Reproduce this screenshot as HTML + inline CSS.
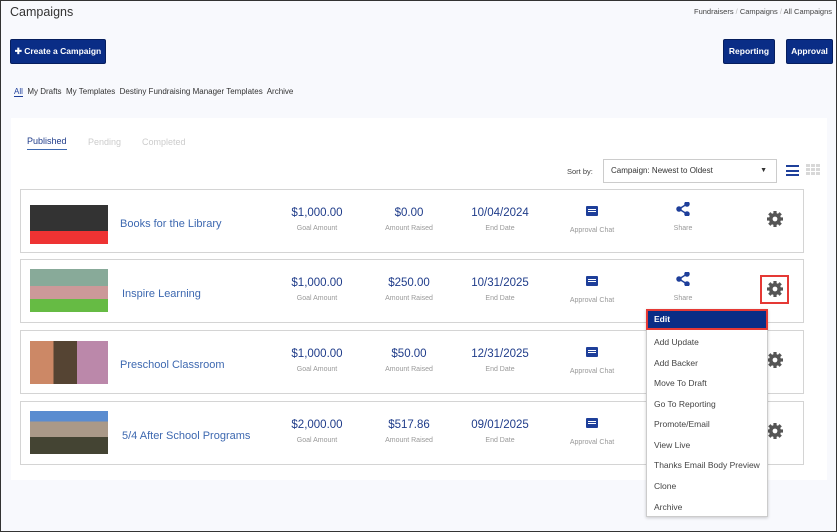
<!DOCTYPE html>
<html><head><meta charset="utf-8"><style>
*{margin:0;padding:0;box-sizing:border-box}
body{width:837px;height:532px;overflow:hidden;font-family:"Liberation Sans",sans-serif;background:#fff}
#f{position:absolute;left:0;top:0;width:837px;height:532px;border:1px solid #333;background:#f8f9fd}
.a{position:absolute;white-space:nowrap}
.btn{position:absolute;background:#0a2d86;color:#fff;font-size:8.5px;font-weight:bold;border-radius:2px;text-align:center;line-height:23px;height:25px;border:1px solid #061e5e}
.row{position:absolute;left:19px;width:784px;height:64px;background:#fff;border:1px solid #d4d4d4}
.th{position:absolute;left:9px;top:11px;width:78px;height:43px}
.nm{position:absolute;top:0;line-height:68px;font-size:11px;color:#3d68b0}
.v{position:absolute;top:17px;width:100px;margin-left:-50px;text-align:center;font-size:11.5px;color:#1f3c8a}
.l{position:absolute;top:35px;width:100px;margin-left:-50px;text-align:center;font-size:7px;color:#999}
.ch{position:absolute;top:16px;width:12px;height:10px;margin-left:-6px;background:#1e3f9a;border-radius:1px}
.ch:after{content:"";position:absolute;left:2px;top:3px;width:8px;height:1px;background:#fff;box-shadow:0 2px 0 #fff}
.sh{position:absolute;top:12px;margin-left:-7px}
.g{position:absolute;top:20px;left:745px}
.mi{position:absolute;left:7px;font-size:8.5px;color:#444}
</style></head><body><div id="f">
<svg width="0" height="0" style="position:absolute"><defs>
<g id="gear"><circle cx="9" cy="9" r="6" fill="#555"/><g stroke="#555" stroke-width="3.2"><line x1="9" y1="1" x2="9" y2="17"/><line x1="1" y1="9" x2="17" y2="9"/><line x1="3.3" y1="3.3" x2="14.7" y2="14.7"/><line x1="14.7" y1="3.3" x2="3.3" y2="14.7"/></g><circle cx="9" cy="9" r="2.4" fill="#fff"/></g>
<g id="share" stroke="#1e3f9a" stroke-width="1.5" fill="#1e3f9a"><line x1="11" y1="2" x2="3" y2="7"/><line x1="3" y1="7" x2="11" y2="12"/><circle cx="11" cy="2" r="2"/><circle cx="3" cy="7" r="2"/><circle cx="11" cy="12" r="2"/></g>
</defs></svg>
<div class="a" style="left:9px;top:4px;font-size:12.5px;color:#333">Campaigns</div>
<div class="a" style="right:4px;top:6px;font-size:7.5px;color:#444">Fundraisers <span style="color:#bbb">/</span> Campaigns <span style="color:#bbb">/</span> All Campaigns</div>
<div class="btn" style="left:9px;top:38px;width:96px">✚ Create a Campaign</div>
<div class="btn" style="left:722px;top:38px;width:52px">Reporting</div>
<div class="btn" style="left:785px;top:38px;width:47px">Approval</div>
<div class="a" style="left:13px;top:86px;font-size:8px;color:#333"><span style="color:#1e3f9a;border-bottom:1px solid #1e3f9a">All</span>&nbsp; My Drafts&nbsp; My Templates&nbsp; Destiny Fundraising Manager Templates&nbsp; Archive</div>
<div style="position:absolute;left:10px;top:117px;width:816px;height:362px;background:#fff"></div>
<div class="a" style="left:26px;top:135px;font-size:9px;color:#1f3c8a;border-bottom:1.5px solid #3d68b0;padding-bottom:3px">Published</div>
<div class="a" style="left:87px;top:136px;font-size:9px;color:#ccc">Pending</div>
<div class="a" style="left:141px;top:136px;font-size:9px;color:#ccc">Completed</div>
<div class="a" style="left:566px;top:166px;font-size:7.5px;color:#444">Sort by:</div>
<div style="position:absolute;left:602px;top:158px;width:174px;height:24px;border:1px solid #ccc;background:#fff;font-size:8px;color:#333;line-height:22px;padding-left:7px">Campaign: Newest to Oldest<span style="position:absolute;right:9px;top:0;font-size:7px">▼</span></div>
<div style="position:absolute;left:785px;top:164px;width:13px;height:11px;border-top:2px solid #1e3f9a;border-bottom:2px solid #1e3f9a"><div style="margin-top:2.5px;height:2px;background:#1e3f9a"></div></div>
<div style="position:absolute;left:805px;top:163px;width:14px;height:11px;background:repeating-linear-gradient(90deg,#d8d8d8 0 4px,transparent 4px 5px),#fff;-webkit-mask:repeating-linear-gradient(#000 0 3px,transparent 3px 4px)"></div>

<div class="row" style="top:188px"><div class="th" style="background:linear-gradient(#fff 0 4px,#333 4px 30px,#e33 30px);"></div><div class="nm" style="left:99px">Books for the Library</div>
<div class="v" style="left:296px">$1,000.00</div><div class="l" style="left:296px">Goal Amount</div>
<div class="v" style="left:388px">$0.00</div><div class="l" style="left:388px">Amount Raised</div>
<div class="v" style="left:479px">10/04/2024</div><div class="l" style="left:479px">End Date</div>
<div class="ch" style="left:571px"></div><div class="l" style="left:571px;top:37px">Approval Chat</div>
<svg class="sh" style="left:662px" width="14" height="14"><use href="#share"/></svg><div class="l" style="left:662px">Share</div>
<svg class="g" width="18" height="18"><use href="#gear"/></svg></div>

<div class="row" style="top:258px"><div class="th" style="top:9px;background:linear-gradient(#8a9 0 40%,#c99 40% 70%,#6b4 70%)"></div><div class="nm" style="left:101px">Inspire Learning</div>
<div class="v" style="left:296px">$1,000.00</div><div class="l" style="left:296px">Goal Amount</div>
<div class="v" style="left:388px">$250.00</div><div class="l" style="left:388px">Amount Raised</div>
<div class="v" style="left:479px">10/31/2025</div><div class="l" style="left:479px">End Date</div>
<div class="ch" style="left:571px"></div><div class="l" style="left:571px;top:37px">Approval Chat</div>
<svg class="sh" style="left:662px" width="14" height="14"><use href="#share"/></svg><div class="l" style="left:662px">Share</div>
<svg class="g" width="18" height="18"><use href="#gear"/></svg><div style="position:absolute;left:739px;top:15px;width:29px;height:29px;border:2px solid #e53935"></div></div>

<div class="row" style="top:329px"><div class="th" style="top:10px;background:linear-gradient(90deg,#c86 0 30%,#543 30% 60%,#b8a 60%)"></div><div class="nm" style="left:99px">Preschool Classroom</div>
<div class="v" style="left:296px">$1,000.00</div><div class="l" style="left:296px">Goal Amount</div>
<div class="v" style="left:388px">$50.00</div><div class="l" style="left:388px">Amount Raised</div>
<div class="v" style="left:479px">12/31/2025</div><div class="l" style="left:479px">End Date</div>
<div class="ch" style="left:571px"></div><div class="l" style="left:571px;top:37px">Approval Chat</div>
<svg class="g" width="18" height="18"><use href="#gear"/></svg></div>

<div class="row" style="top:400px"><div class="th" style="top:9px;background:linear-gradient(#5a8cd0 0 25%,#a98 25% 60%,#443 60%)"></div><div class="nm" style="left:101px">5/4 After School Programs</div>
<div class="v" style="left:296px">$2,000.00</div><div class="l" style="left:296px">Goal Amount</div>
<div class="v" style="left:388px">$517.86</div><div class="l" style="left:388px">Amount Raised</div>
<div class="v" style="left:479px">09/01/2025</div><div class="l" style="left:479px">End Date</div>
<div class="ch" style="left:571px"></div><div class="l" style="left:571px;top:37px">Approval Chat</div>
<svg class="g" width="18" height="18"><use href="#gear"/></svg></div>

<div style="position:absolute;left:645px;top:308px;width:122px;height:208px;background:#fff;border:1px solid #ccc;box-shadow:0 1px 3px rgba(0,0,0,.2)">
<div style="position:absolute;left:-1px;top:-1px;width:122px;height:21px;background:#0a2d86;border:2px solid #e53935;color:#fff;font-size:8.5px;font-weight:bold;line-height:17px;padding-left:6px">Edit</div>
<div class="mi" style="top:27px">Add Update</div>
<div class="mi" style="top:48px">Add Backer</div>
<div class="mi" style="top:68px">Move To Draft</div>
<div class="mi" style="top:89px">Go To Reporting</div>
<div class="mi" style="top:109px">Promote/Email</div>
<div class="mi" style="top:130px">View Live</div>
<div class="mi" style="top:150px">Thanks Email Body Preview</div>
<div class="mi" style="top:171px">Clone</div>
<div class="mi" style="top:192px">Archive</div>
</div>
</div></body></html>
